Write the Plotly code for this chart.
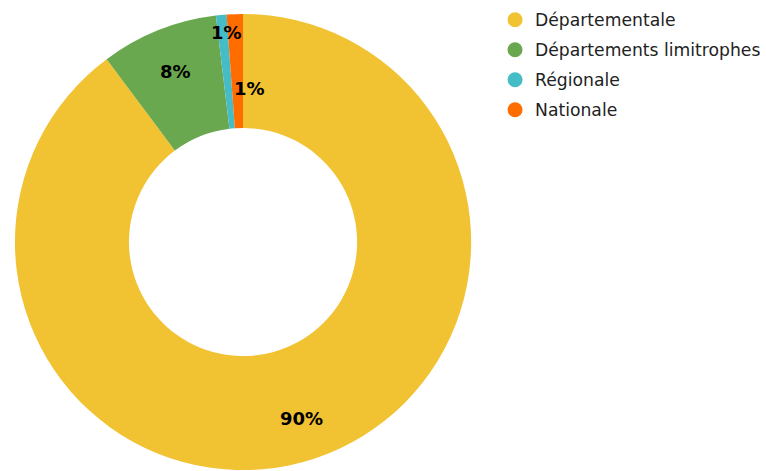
import math
import plotly.graph_objects as go

categories = ["Départementale", "Départements limitrophes", "Régionale", "Nationale"]
values = [89.8, 8.3, 0.75, 1.15]
colors = ["#F1C232", "#6AA84F", "#46BDC6", "#FF6D01"]

# label placement style (radius fraction of outer radius, pixel x shift)
label_rfrac = [0.81, 0.80, 0.92, 0.67]
label_xshift = [0, 0, 4, 12]

W, H = 766, 471
mt, mb = 13, 0
R = (H - mt - mb) / 2.0
cx = 244.0
cy = mt + R
plot_h = H - mt - mb

fig = go.Figure()
fig.add_trace(go.Pie(
    labels=categories, values=values, sort=False, direction="clockwise",
    rotation=0, hole=0.5, textinfo="none", hoverinfo="label+percent",
    marker=dict(colors=colors, line=dict(width=0)),
    domain=dict(x=[(cx - R) / W, (cx + R) / W], y=[0, 1]),
    showlegend=False,
))

total = sum(values)
cum = 0.0
annotations = []
for i, v in enumerate(values):
    mid = (cum + v / 2) / total * 2 * math.pi  # clockwise from top
    cum += v
    r = R * label_rfrac[i]
    px = cx + r * math.sin(mid)
    py = cy - r * math.cos(mid)
    annotations.append(dict(
        x=px / W, y=(H - mb - py) / plot_h, xref="paper", yref="paper",
        xanchor="center", yanchor="middle",
        text=f"{round(v / total * 100)}%", showarrow=False, xshift=label_xshift[i],
        font=dict(family="DejaVu Sans", size=18, color="#000000", weight="bold"),
    ))

legend_names = ["legend", "legend2", "legend3", "legend4"]
row_y = [20, 50, 80, 110]
layout_legends = {}
for i, (name, c) in enumerate(zip(categories, colors)):
    fig.add_trace(go.Scatter(
        x=[None], y=[None], mode="markers", name=name,
        marker=dict(symbol="circle", size=15, color=c),
        legend=legend_names[i], showlegend=True, hoverinfo="skip",
    ))
    layout_legends[legend_names[i]] = dict(
        x=497 / W, xanchor="left", y=(H - mb - row_y[i]) / plot_h, yanchor="middle",
        font=dict(family="DejaVu Sans", size=17.2, color="#222222"),
        bgcolor="rgba(0,0,0,0)", borderwidth=0,
    )

fig.update_layout(
    width=W, height=H,
    margin=dict(l=0, r=0, t=mt, b=mb),
    paper_bgcolor="white", plot_bgcolor="white",
    xaxis=dict(visible=False), yaxis=dict(visible=False),
    annotations=annotations,
    font=dict(family="DejaVu Sans"),
    **layout_legends,
)

fig.write_html(
    "out.html",
    config={"displayModeBar": False},
    post_script="document.body.style.margin='0';document.body.style.padding='0';"
                "document.documentElement.style.overflow='hidden';",
)
